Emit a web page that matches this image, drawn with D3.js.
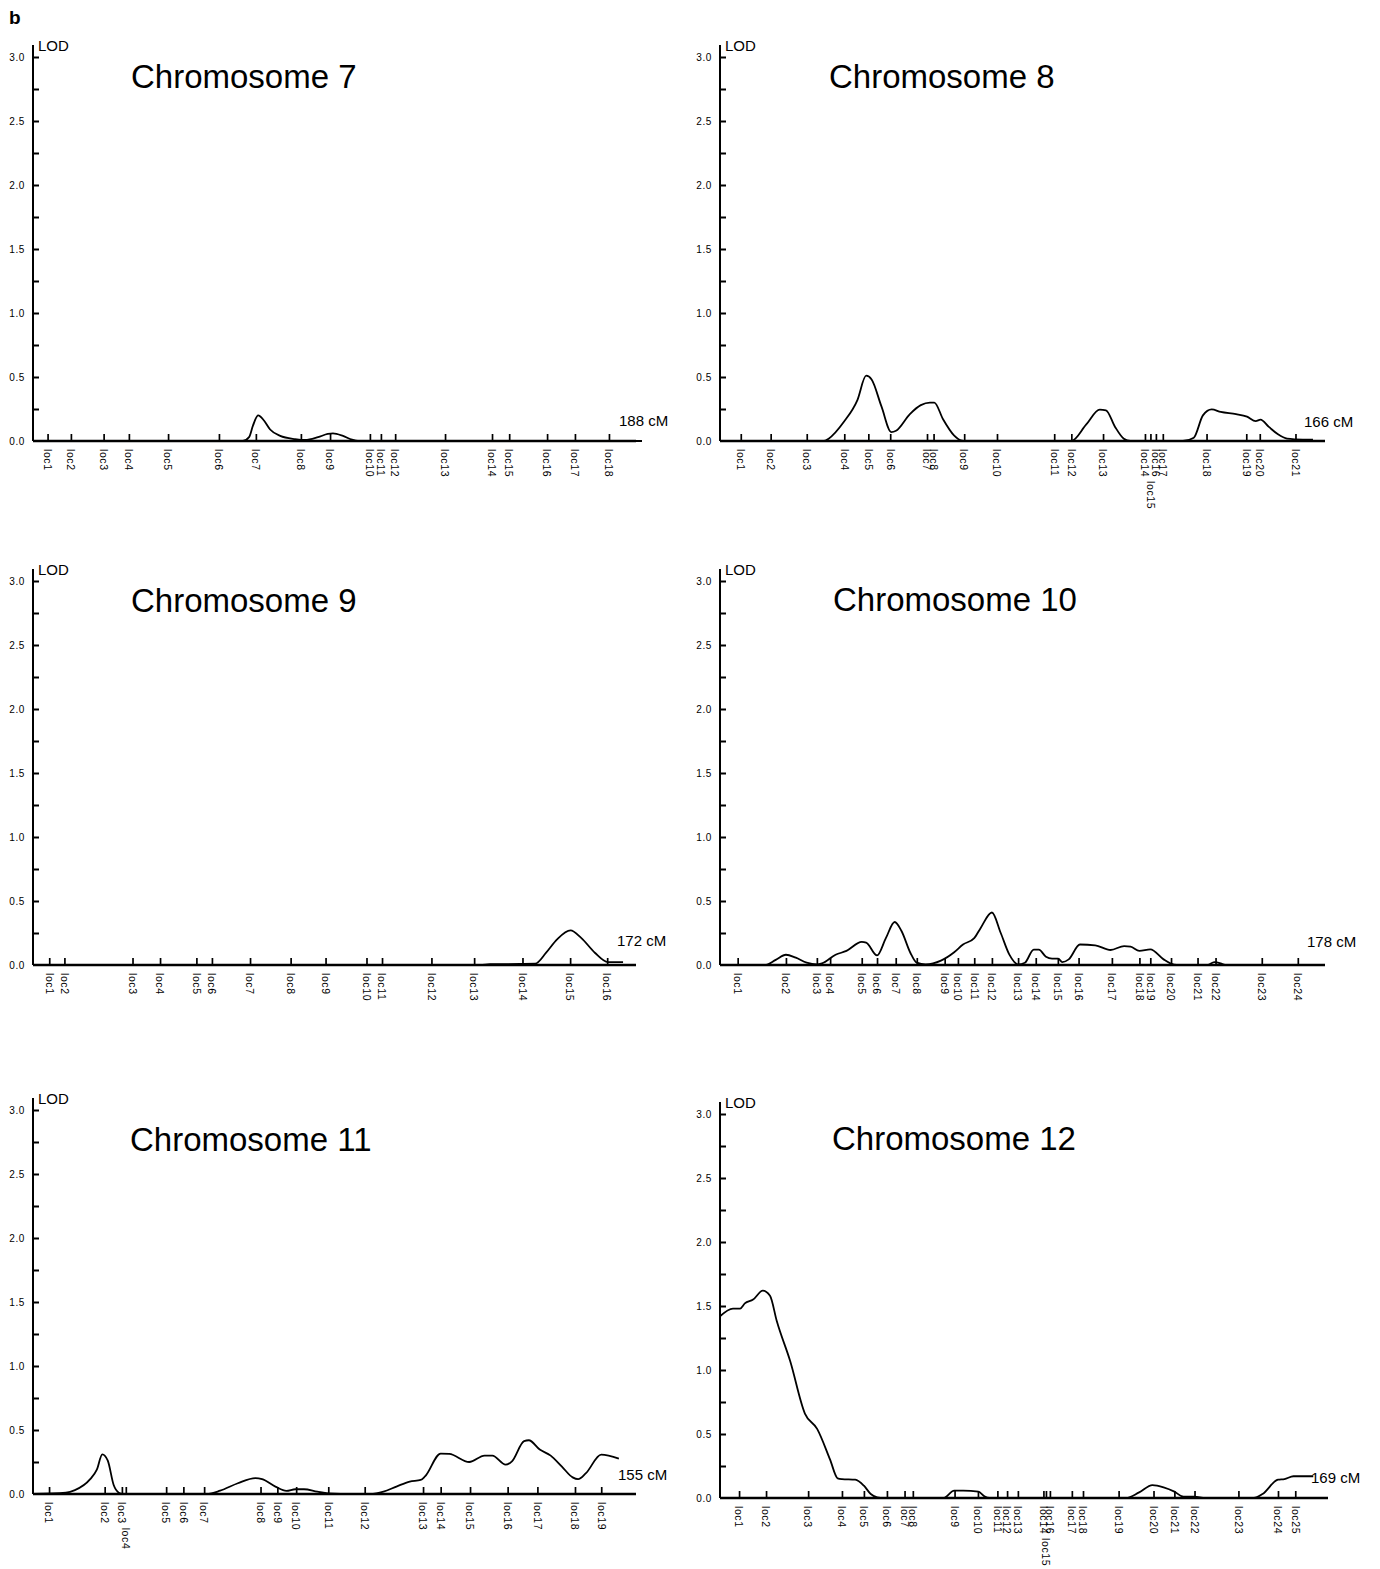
<!DOCTYPE html>
<html><head><meta charset="utf-8">
<script src="https://cdn.jsdelivr.net/npm/d3@7"></script>
<style>
body{margin:0;background:#fff;}
svg{display:block;background:#fff;}
text{font-family:"Liberation Sans",Arial,Helvetica,sans-serif;fill:#000;}
</style></head><body>
<svg id="chart" width="1380" height="1569"></svg>
<script>
// ---------------- DATA ----------------
const chromosomes = ["7", "8", "9", "10", "11", "12"];
const chromLengthCM = [188, 166, 172, 178, 155, 169];
const lodTickValues = [0.25, 0.5, 0.75, 1.0, 1.25, 1.5, 1.75, 2.0, 2.25, 2.5, 2.75, 3.0];
const lodLabelValues = [0.0, 0.5, 1.0, 1.5, 2.0, 2.5, 3.0];

// Chromosome 7
const chr7MarkerNames = ["loc1","loc2","loc3","loc4","loc5","loc6","loc7","loc8","loc9","loc10","loc11","loc12","loc13","loc14","loc15","loc16","loc17","loc18"];
const chr7MarkerCM = [4.5, 11.7, 21.8, 29.6, 41.7, 57.4, 68.8, 82.7, 91.7, 104.0, 107.4, 111.8, 127.2, 141.7, 147.0, 158.7, 167.3, 177.8];
const chr7SecondRow = [];
const chr7CurveCM  = [0, 64.8, 66.7, 67.9, 69.5, 71.3, 73.2, 76.3, 80.9, 84.0, 88.0, 91.0, 92.6, 95.7, 98.5, 100.3, 188];
const chr7CurveLOD = [0, 0, 0.03, 0.12, 0.20, 0.16, 0.09, 0.04, 0.015, 0.008, 0.03, 0.055, 0.06, 0.04, 0.01, 0, 0];

// Chromosome 8
const chr8MarkerNames = ["loc1","loc2","loc3","loc4","loc5","loc6","loc7","loc8","loc9","loc10","loc11","loc12","loc13","loc14","loc15","loc16","loc17","loc18","loc19","loc20","loc21"];
const chr8MarkerCM = [5.7, 13.9, 23.8, 34.1, 40.7, 46.7, 56.8, 58.6, 67.0, 76.0, 91.7, 96.4, 105.1, 116.6, 118.1, 119.6, 121.5, 133.5, 144.4, 148.1, 157.9];
const chr8SecondRow = ["loc15"];
const chr8CurveCM  = [0, 28.5, 29.8, 34.0, 37.7, 40.1, 41.6, 44.3, 47.0, 48.3, 52.1, 55.1, 57.6, 58.8, 61.2, 64.2, 66.1, 67.5, 96.4, 100.5, 104.2, 105.9, 108.4, 110.8, 112.6, 127.0, 130.0, 132.5, 134.9, 137.4, 141.6, 144.6, 147.0, 148.3, 150.6, 153.1, 155.6, 157.9, 162.7];
const chr8CurveLOD = [0, 0, 0.018, 0.15, 0.32, 0.51, 0.48, 0.27, 0.07, 0.08, 0.21, 0.28, 0.30, 0.30, 0.17, 0.044, 0.005, 0, 0, 0.13, 0.245, 0.24, 0.11, 0.018, 0, 0, 0.026, 0.20, 0.247, 0.227, 0.21, 0.19, 0.156, 0.167, 0.11, 0.052, 0.018, 0.013, 0.01];

// Chromosome 9
const chr9MarkerNames = ["loc1","loc2","loc3","loc4","loc5","loc6","loc7","loc8","loc9","loc10","loc11","loc12","loc13","loc14","loc15","loc16"];
const chr9MarkerCM = [4.6, 8.9, 28.2, 36.0, 46.3, 50.7, 61.5, 73.0, 82.9, 94.5, 98.9, 112.9, 125.0, 138.7, 152.2, 162.7];
const chr9SecondRow = [];
const chr9CurveCM  = [0, 126.7, 129.5, 138.0, 142.3, 145.4, 148.5, 152.3, 155.4, 159.2, 162.9, 167.2];
const chr9CurveLOD = [0, 0, 0.006, 0.008, 0.01, 0.096, 0.20, 0.27, 0.21, 0.096, 0.023, 0.023];

// Chromosome 10
const chr10MarkerNames = ["loc1","loc2","loc3","loc4","loc5","loc6","loc7","loc8","loc9","loc10","loc11","loc12","loc13","loc14","loc15","loc16","loc17","loc18","loc19","loc20","loc21","loc22","loc23","loc24"];
const chr10MarkerCM = [5.2, 19.4, 28.5, 32.4, 41.7, 46.2, 51.7, 57.9, 66.1, 70.0, 74.8, 80.0, 87.7, 92.9, 99.4, 105.5, 115.3, 123.4, 126.6, 132.7, 140.5, 145.8, 159.4, 170.0];
const chr10SecondRow = [];
const chr10CurveCM  = [0, 13.2, 16.4, 19.4, 22.3, 25.5, 28.5, 30.0, 34.0, 37.2, 41.7, 43.0, 46.2, 48.8, 51.4, 53.4, 56.0, 57.9, 60.5, 65.0, 68.9, 71.5, 74.8, 76.7, 80.0, 82.6, 85.1, 87.7, 89.7, 92.3, 93.8, 95.9, 97.7, 99.5, 100.7, 102.6, 105.9, 110.4, 114.9, 118.9, 120.8, 123.4, 126.6, 130.5, 132.5, 134.4, 143.5, 145.4, 147.3, 148.6, 178];
const chr10CurveLOD = [0, 0, 0.04, 0.08, 0.057, 0.018, 0.005, 0.013, 0.08, 0.11, 0.18, 0.175, 0.075, 0.21, 0.336, 0.266, 0.096, 0.018, 0.005, 0.034, 0.10, 0.16, 0.21, 0.29, 0.41, 0.25, 0.083, 0.005, 0.018, 0.12, 0.12, 0.065, 0.05, 0.05, 0.023, 0.044, 0.16, 0.154, 0.117, 0.148, 0.143, 0.11, 0.122, 0.044, 0.013, 0, 0, 0.023, 0.013, 0, 0];

// Chromosome 11
const chr11MarkerNames = ["loc1","loc2","loc3","loc4","loc5","loc6","loc7","loc8","loc9","loc10","loc11","loc12","loc13","loc14","loc15","loc16","loc17","loc18","loc19"];
const chr11MarkerCM = [4.1, 18.3, 22.7, 23.7, 34.0, 38.4, 43.7, 58.1, 62.4, 67.2, 75.4, 84.7, 99.6, 104.1, 111.6, 121.2, 128.8, 138.4, 145.1];
const chr11SecondRow = ["loc4"];
const chr11CurveCM  = [0, 8.4, 10.7, 14.6, 16.3, 17.7, 19.1, 20.6, 21.9, 22.9, 44.4, 47.8, 52.3, 56.8, 58.5, 61.9, 64.7, 67.0, 69.2, 72.6, 75.4, 81.6, 86.1, 89.5, 92.8, 96.2, 99.0, 100.1, 104.1, 106.3, 111.4, 115.3, 117.3, 120.7, 122.3, 125.4, 126.6, 129.4, 132.2, 135.0, 137.8, 139.2, 141.2, 145.1, 149.6];
const chr11CurveLOD = [0, 0.01, 0.03, 0.116, 0.19, 0.31, 0.26, 0.07, 0.01, 0, 0, 0.026, 0.084, 0.124, 0.116, 0.058, 0.024, 0.037, 0.037, 0.018, 0.005, 0, 0, 0.018, 0.058, 0.097, 0.11, 0.137, 0.316, 0.313, 0.25, 0.30, 0.30, 0.229, 0.255, 0.413, 0.42, 0.347, 0.30, 0.216, 0.13, 0.116, 0.163, 0.308, 0.276];

// Chromosome 12
const chr12MarkerNames = ["loc1","loc2","loc3","loc4","loc5","loc6","loc7","loc8","loc9","loc10","loc11","loc12","loc13","loc14","loc15","loc16","loc17","loc18","loc19","loc20","loc21","loc22","loc23","loc24","loc25"];
const chr12MarkerCM = [5.3, 12.8, 24.5, 33.9, 40.0, 46.4, 51.3, 53.6, 65.2, 71.7, 77.1, 79.8, 82.8, 89.9, 90.6, 91.7, 97.8, 100.9, 110.8, 120.5, 126.3, 131.9, 144.1, 155.1, 159.9];
const chr12SecondRow = ["loc15"];
const chr12CurveCM  = [0, 3.6, 5.6, 6.9, 9.2, 11.9, 13.9, 15.8, 19.5, 23.6, 27.0, 30.6, 32.7, 33.9, 37.6, 40.0, 41.9, 43.7, 45.5, 62.1, 65.1, 67.6, 71.8, 73.5, 74.9, 112.9, 116.5, 120.2, 123.3, 126.3, 128.8, 131.9, 134.9, 148.4, 150.8, 155.1, 156.9, 159.4, 164.9];
const chr12CurveLOD = [1.42, 1.48, 1.48, 1.52, 1.55, 1.62, 1.58, 1.38, 1.07, 0.66, 0.54, 0.30, 0.154, 0.148, 0.143, 0.096, 0.031, 0.005, 0, 0, 0.057, 0.057, 0.05, 0.013, 0, 0, 0.044, 0.10, 0.083, 0.05, 0.01, 0.01, 0, 0, 0.031, 0.143, 0.148, 0.17, 0.17];

// ---------------- LAYOUT (positions only) ----------------
const layout = [
  {x0: 33,  x1: 642,  lineEnd: 636,  yZero: 441,  titleX: 131, titleY: 88,   cmX: 619,  cmY: 426},
  {x0: 720, x1: 1325, lineEnd: 1325, yZero: 441,  titleX: 829, titleY: 88,   cmX: 1304, cmY: 427},
  {x0: 33,  x1: 640,  lineEnd: 636,  yZero: 965,  titleX: 131, titleY: 612,  cmX: 617,  cmY: 946},
  {x0: 720, x1: 1325, lineEnd: 1325, yZero: 965,  titleX: 833, titleY: 611,  cmX: 1307, cmY: 947},
  {x0: 33,  x1: 640,  lineEnd: 636,  yZero: 1494, titleX: 130, titleY: 1151, cmX: 618,  cmY: 1480},
  {x0: 720, x1: 1328, lineEnd: 1328, yZero: 1498, titleX: 832, titleY: 1150, cmX: 1311, cmY: 1483}
];
const yAxisHeight = 384;

const markerNames = [chr7MarkerNames, chr8MarkerNames, chr9MarkerNames, chr10MarkerNames, chr11MarkerNames, chr12MarkerNames];
const markerCM = [chr7MarkerCM, chr8MarkerCM, chr9MarkerCM, chr10MarkerCM, chr11MarkerCM, chr12MarkerCM];
const secondRow = [chr7SecondRow, chr8SecondRow, chr9SecondRow, chr10SecondRow, chr11SecondRow, chr12SecondRow];
const curveCM = [chr7CurveCM, chr8CurveCM, chr9CurveCM, chr10CurveCM, chr11CurveCM, chr12CurveCM];
const curveLOD = [chr7CurveLOD, chr8CurveLOD, chr9CurveLOD, chr10CurveLOD, chr11CurveLOD, chr12CurveLOD];

// ---------------- DRAW ----------------
const svg = d3.select("#chart");

svg.append("text").attr("x", 9).attr("y", 24)
  .style("font-size", "19px").style("font-weight", "bold").text("b");

chromosomes.forEach((chrom, i) => {
  const L = layout[i];
  const g = svg.append("g");
  const x = d3.scaleLinear().domain([0, chromLengthCM[i]]).range([L.x0, L.x1]);
  const y = d3.scaleLinear().domain([0, 3]).range([L.yZero, L.yZero - yAxisHeight]);

  // y-axis line
  g.append("line")
    .attr("x1", L.x0).attr("x2", L.x0)
    .attr("y1", y(3) - 12).attr("y2", L.yZero)
    .attr("stroke", "#000").attr("stroke-width", 2);

  // inward minor ticks
  const yTicks = g.append("g").attr("transform", `translate(${L.x0},0)`)
    .call(d3.axisRight(y).tickValues(lodTickValues).tickSize(6).tickFormat(""));
  yTicks.select(".domain").remove();
  yTicks.selectAll("line").attr("stroke", "#000").attr("stroke-width", 2);

  // labels on the left
  const yLabels = g.append("g").attr("transform", `translate(${L.x0},0)`)
    .call(d3.axisLeft(y).tickValues(lodLabelValues).tickSize(0).tickPadding(8).tickFormat(d3.format(".1f")));
  yLabels.select(".domain").remove();
  yLabels.selectAll("text").style("font-size", "10px").style("letter-spacing", "0.6px")
    .style("font-family", "'Liberation Sans', Arial, sans-serif").attr("fill", "#000");

  // LOD label
  g.append("text").attr("x", L.x0 + 5).attr("y", y(3) - 6)
    .style("font-size", "15px").text("LOD");

  // title
  g.append("text").attr("x", L.titleX).attr("y", L.titleY)
    .style("font-size", "33px").text("Chromosome " + chrom);

  // baseline
  g.append("line")
    .attr("x1", L.x0).attr("x2", L.lineEnd)
    .attr("y1", L.yZero).attr("y2", L.yZero)
    .attr("stroke", "#000").attr("stroke-width", 2.4);

  // marker ticks (upward)
  const xTicks = g.append("g").attr("transform", `translate(0,${L.yZero})`)
    .call(d3.axisTop(x).tickValues(markerCM[i]).tickSize(7).tickFormat(""));
  xTicks.select(".domain").remove();
  xTicks.selectAll("line").attr("stroke", "#000").attr("stroke-width", 1.7);

  // marker labels (rotated)
  const names = markerNames[i];
  const lengths = {};
  names.forEach((nm, k) => {
    const isSecond = secondRow[i].includes(nm);
    let y0 = L.yZero + 8;
    if (isSecond && k > 0) {
      y0 += lengths[names[k - 1]] + 4;
    }
    const px = x(markerCM[i][k]);
    const t = g.append("text")
      .attr("transform", `translate(${px},${y0}) rotate(90)`)
      .attr("dy", "0.35em")
      .style("font-size", "10.5px")
      .style("letter-spacing", "0.6px")
      .text(nm);
    lengths[nm] = t.node().getComputedTextLength();
  });

  // LOD curve
  const pts = curveCM[i].map((c, k) => [c, curveLOD[i][k]]);
  const line = d3.line().x(d => x(d[0])).y(d => y(d[1])).curve(d3.curveMonotoneX);
  g.append("path").datum(pts).attr("d", line)
    .attr("fill", "none").attr("stroke", "#000").attr("stroke-width", 1.8)
    .attr("stroke-linejoin", "round");

  // length label
  g.append("text").attr("x", L.cmX).attr("y", L.cmY)
    .style("font-size", "15px").text(chromLengthCM[i] + " cM");
});
</script>
</body></html>
